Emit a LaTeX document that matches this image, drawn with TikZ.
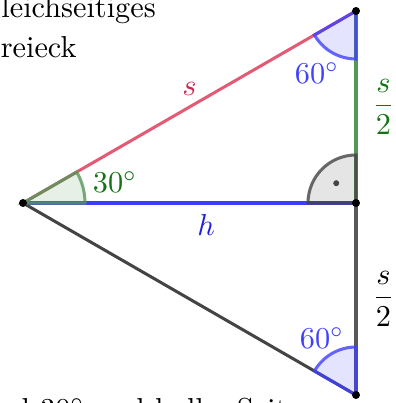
\documentclass[tikz,border=0pt]{standalone}
\usepackage{amsmath,amssymb}
\usepackage{tikz}
\definecolor{linieS}{RGB}{226,90,116}
\definecolor{textS}{RGB}{204,40,82}
\definecolor{linieH}{RGB}{60,60,250}
\definecolor{textH}{RGB}{30,30,225}
\definecolor{linieG}{RGB}{86,150,86}
\definecolor{textG}{RGB}{20,115,20}
\definecolor{winkelB}{RGB}{64,64,255}
\definecolor{grau}{RGB}{88,88,88}
\definecolor{dunkelgrau}{RGB}{68,68,68}

\begin{document}
\begin{tikzpicture}[x=0.33pt, y=-0.33pt,
    seite/.style={line width=1pt},
    winkel/.style={line width=1pt, fill opacity=0.14, draw opacity=0.8}]
    \useasboundingbox (0,0) rectangle (395,403);
    \clip (0,0) rectangle (395,403);
    % Ecken des halben Dreiecks
    \coordinate (L) at (23,203);
    \coordinate (T) at (356,11);
    \coordinate (M) at (356,203);
    \coordinate (B) at (356,395);
    % Überschrift (links abgeschnitten)
    \node[anchor=base west, align=left, inner sep=0pt] (titel) at (-23,58)
      {Gleichseitiges\\[1.2pt]Dreieck};
    % Seiten
    \draw[seite,linieS] (L) -- (T)
      node[midway,above,textS] (lblS) {$s$};
    \draw[seite,linieH] (L) -- (M)
      node[pos=0.55,below,textH] (lblH) {$h$};
    \draw[seite,linieG] (T) -- (M)
      node[midway,right=1.5pt,textG] (lblSo) {$\dfrac{s}{2}$};
    \draw[seite,grau] (M) -- (B)
      node[midway,right=1.5pt,black] (lblSu) {$\dfrac{s}{2}$};
    \draw[seite,dunkelgrau] (L) -- (B);
    % Winkel 30°
    \filldraw[winkel,draw=linieG,fill=linieG] (L) -- +(0:62)
      arc[start angle=0, end angle=-30, radius=62] -- cycle;
    \node[textG] (w30) at ([shift={(92,-21)}]L) {$30^\circ$};
    % Winkel 60° oben und unten
    \filldraw[winkel,draw=winkelB,fill=winkelB] (T) -- +(90:48)
      arc[start angle=90, end angle=150, radius=48] -- cycle;
    \node[winkelB] (w60o) at ([shift={(-39,62)}]T) {$60^\circ$};
    \filldraw[winkel,draw=winkelB,fill=winkelB] (B) -- +(210:48)
      arc[start angle=210, end angle=270, radius=48] -- cycle;
    \node[winkelB] (w60u) at ([shift={(-34,-57)}]B) {$60^\circ$};
    % rechter Winkel
    \filldraw[winkel,draw=dunkelgrau,fill=dunkelgrau] (M) -- +(180:48)
      arc[start angle=180, end angle=270, radius=48] -- cycle;
    \fill[dunkelgrau] ([shift={(225:28)}]M) circle (3);
    % Punkte
    \foreach \p in {L,T,M,B}
      \fill (\p) circle (4);
    % Text unten (abgeschnitten)
    \node[anchor=base west, inner sep=0pt] (unten) at (-64,419)
      {Winkel $30^\circ$ und halbe Seite};
\end{tikzpicture}
\end{document}
